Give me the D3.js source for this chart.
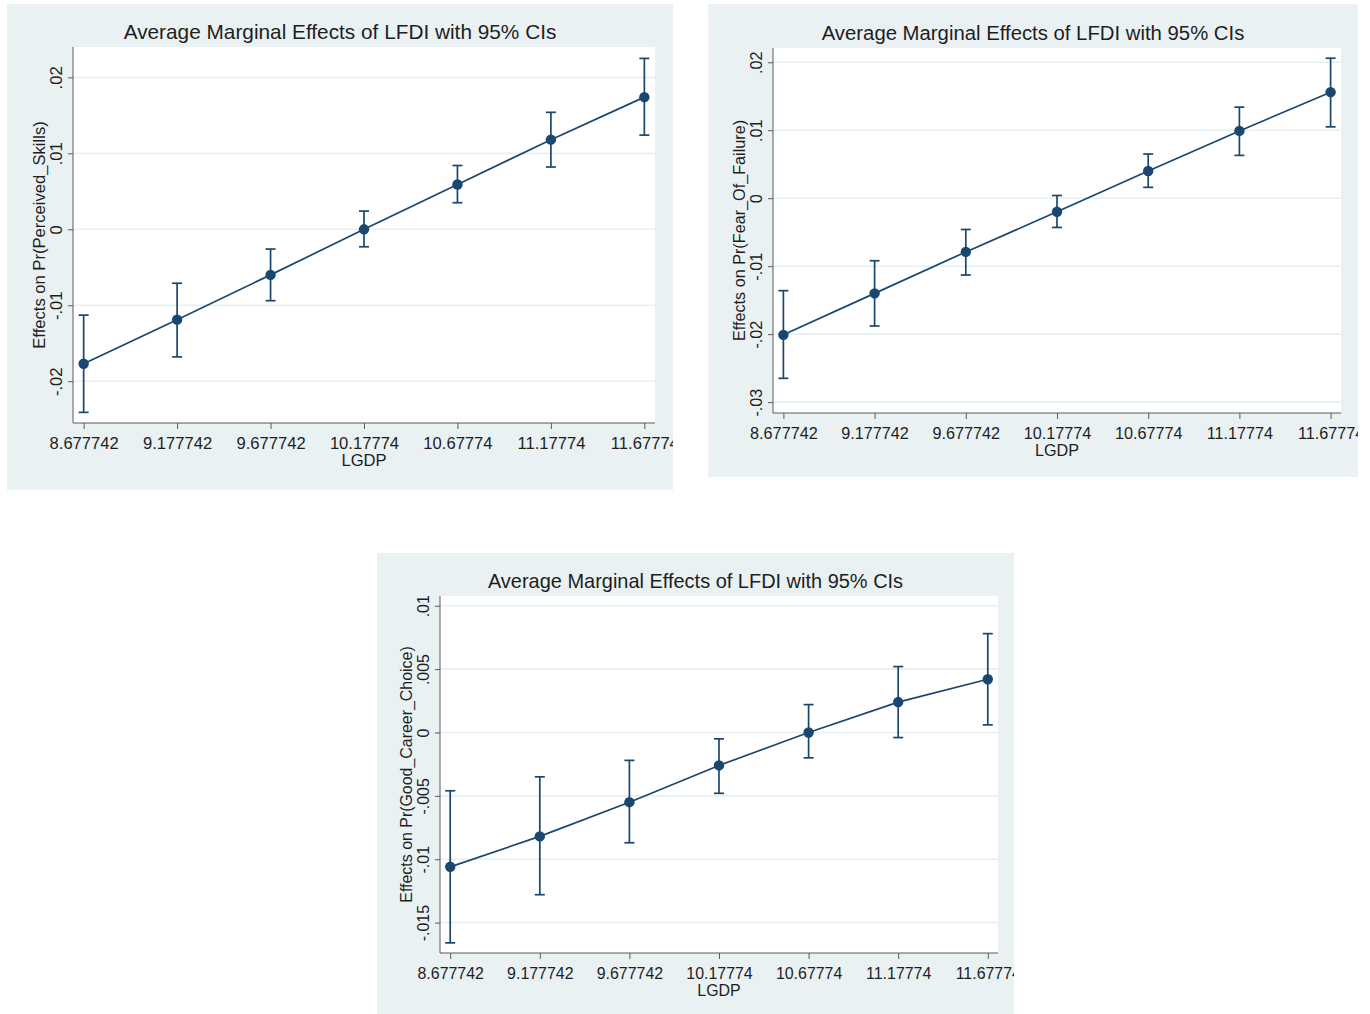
<!DOCTYPE html>
<html>
<head>
<meta charset="utf-8">
<script src="https://cdn.jsdelivr.net/npm/d3@7"></script>
<style>
  html, body { margin: 0; padding: 0; background: #ffffff; }
  svg { display: block; }
  text { font-family: "Liberation Sans", Arial, Helvetica, sans-serif; fill: #1e1e1e; }
</style>
</head>
<body>
<svg id="chart" width="1370" height="1014"></svg>
<script>
// ---------- data ----------
const lgdp = [8.677742, 9.177742, 9.677742, 10.17774, 10.67774, 11.17774, 11.67774];
const xTickLabels = ["8.677742", "9.177742", "9.677742", "10.17774", "10.67774", "11.17774", "11.67774"];
const chartTitle = "Average Marginal Effects of LFDI with 95% CIs";
const xAxisTitle = "LGDP";

// Panel 1: Perceived_Skills
const skillsMargin = [-0.0177, -0.0119, -0.0060, 0.0000, 0.0059, 0.0118, 0.0174];
const skillsLow    = [-0.0241, -0.0168, -0.0094, -0.0023, 0.0035, 0.0082, 0.0124];
const skillsHigh   = [-0.0113, -0.0071, -0.0026, 0.0024, 0.0084, 0.0154, 0.0225];
const skillsTicks  = [-0.02, -0.01, 0, 0.01, 0.02];
const skillsTickLabels = ["-.02", "-.01", "0", ".01", ".02"];

// Panel 2: Fear_Of_Failure
const fearMargin = [-0.0201, -0.0140, -0.0079, -0.0020, 0.0040, 0.0099, 0.0156];
const fearLow    = [-0.0265, -0.0188, -0.0113, -0.0043, 0.0016, 0.0063, 0.0105];
const fearHigh   = [-0.0136, -0.0092, -0.0046, 0.0004, 0.0065, 0.0134, 0.0206];
const fearTicks  = [-0.03, -0.02, -0.01, 0, 0.01, 0.02];
const fearTickLabels = ["-.03", "-.02", "-.01", "0", ".01", ".02"];

// Panel 3: Good_Career_Choice
const careerMargin = [-0.0106, -0.0082, -0.0055, -0.0026, 0.0000, 0.0024, 0.0042];
const careerLow    = [-0.0166, -0.0128, -0.0087, -0.0048, -0.0020, -0.0004, 0.0006];
const careerHigh   = [-0.0046, -0.0035, -0.0022, -0.0005, 0.0022, 0.0052, 0.0078];
const careerTicks  = [-0.015, -0.01, -0.005, 0, 0.005, 0.01];
const careerTickLabels = ["-.015", "-.01", "-.005", "0", ".005", ".01"];

// ---------- layout ----------
const panels = [
  { yTitle: "Effects on Pr(Perceived_Skills)", m: skillsMargin, lo: skillsLow, hi: skillsHigh,
    ticks: skillsTicks, tickLabels: skillsTickLabels, yDomain: [-0.0255, 0.0240], fs: 1.0,
    bg: { x: 7, y: 4, w: 666, h: 486 }, plot: { x: 73, y: 47, w: 582, h: 376 } },
  { yTitle: "Effects on Pr(Fear_Of_Failure)", m: fearMargin, lo: fearLow, hi: fearHigh,
    ticks: fearTicks, tickLabels: fearTickLabels, yDomain: [-0.0316, 0.0221], fs: 0.977,
    bg: { x: 708, y: 4, w: 650, h: 473 }, plot: { x: 773, y: 48, w: 568, h: 365 } },
  { yTitle: "Effects on Pr(Good_Career_Choice)", m: careerMargin, lo: careerLow, hi: careerHigh,
    ticks: careerTicks, tickLabels: careerTickLabels, yDomain: [-0.0174, 0.01077], fs: 0.96,
    bg: { x: 377, y: 553, w: 637, h: 461 }, plot: { x: 440, y: 596, w: 558, h: 357 } }
];

const navy = "#1a476f";
const bgColor = "#eaf1f3";
const gridColor = "#e6eff1";
const axisColor = "#5a5a5a";
const tickFont = 16.6;
const titleFont = 20.8;

const svg = d3.select("#chart");
const defs = svg.append("defs");

panels.forEach((p, i) => {
  const tf = (tickFont * p.fs) + "px";
  const hf = (titleFont * p.fs) + "px";
  const clipId = "clip" + i;
  defs.append("clipPath").attr("id", clipId)
    .append("rect").attr("x", p.bg.x).attr("y", p.bg.y).attr("width", p.bg.w).attr("height", p.bg.h);

  const root = svg.append("g").attr("clip-path", `url(#${clipId})`);
  root.append("rect").attr("x", p.bg.x).attr("y", p.bg.y)
    .attr("width", p.bg.w).attr("height", p.bg.h).attr("fill", bgColor);

  const g = root.append("g").attr("transform", `translate(${p.plot.x},${p.plot.y})`);
  const W = p.plot.w, H = p.plot.h;
  g.append("rect").attr("width", W).attr("height", H).attr("fill", "#ffffff");

  const pad = 0.057;
  const x = d3.scaleLinear().domain([lgdp[0] - pad, lgdp[lgdp.length - 1] + pad]).range([0, W]);
  const y = d3.scaleLinear().domain(p.yDomain).range([H, 0]);

  // gridlines
  g.append("g").selectAll("line").data(p.ticks).join("line")
    .attr("x1", 0).attr("x2", W)
    .attr("y1", d => y(d)).attr("y2", d => y(d))
    .attr("stroke", gridColor).attr("stroke-width", 1.6);

  // y axis
  const yAxis = d3.axisLeft(y).tickValues(p.ticks)
    .tickFormat((d, k) => p.tickLabels[k]).tickSizeInner(5).tickSizeOuter(0);
  const ya = g.append("g").call(yAxis);
  ya.select(".domain").attr("stroke", axisColor).attr("d", `M0,0V${H}`);
  ya.selectAll(".tick line").attr("stroke", axisColor);
  ya.selectAll(".tick text")
    .attr("x", null).attr("dy", null)
    .attr("transform", "translate(-11,0) rotate(-90)")
    .attr("text-anchor", "middle")
    .style("font-family", '"Liberation Sans", Arial, sans-serif')
    .style("font-size", tf).attr("fill", "#1e1e1e");

  // x axis
  const xAxis = d3.axisBottom(x).tickValues(lgdp)
    .tickFormat((d, k) => xTickLabels[k]).tickSizeInner(6).tickSizeOuter(0);
  const xa = g.append("g").attr("transform", `translate(0,${H})`).call(xAxis);
  xa.select(".domain").attr("stroke", axisColor).attr("d", `M0,0H${W}`);
  xa.selectAll(".tick line").attr("stroke", axisColor);
  xa.selectAll(".tick text")
    .attr("y", 26).attr("dy", null)
    .style("font-family", '"Liberation Sans", Arial, sans-serif')
    .style("font-size", tf).attr("fill", "#1e1e1e");

  // axis titles
  g.append("text").attr("x", W / 2).attr("y", H + 43)
    .attr("text-anchor", "middle").style("font-size", tf).text(xAxisTitle);
  g.append("text").attr("transform", `translate(-28,${H / 2}) rotate(-90)`)
    .attr("text-anchor", "middle").style("font-size", tf).text(p.yTitle);

  // chart title centred on panel
  root.append("text").attr("x", p.bg.x + p.bg.w / 2).attr("y", p.plot.y - 8)
    .attr("text-anchor", "middle").style("font-size", hf).text(chartTitle);

  // data
  const pts = lgdp.map((v, k) => ({ x: v, m: p.m[k], lo: p.lo[k], hi: p.hi[k] }));
  const cap = 5;
  const ci = g.append("g").attr("stroke", navy).attr("stroke-width", 1.7).attr("fill", "none");
  ci.selectAll("line.v").data(pts).join("line").attr("class", "v")
    .attr("x1", d => x(d.x)).attr("x2", d => x(d.x))
    .attr("y1", d => y(d.lo)).attr("y2", d => y(d.hi));
  ci.selectAll("line.t").data(pts).join("line").attr("class", "t")
    .attr("x1", d => x(d.x) - cap).attr("x2", d => x(d.x) + cap)
    .attr("y1", d => y(d.hi)).attr("y2", d => y(d.hi));
  ci.selectAll("line.b").data(pts).join("line").attr("class", "b")
    .attr("x1", d => x(d.x) - cap).attr("x2", d => x(d.x) + cap)
    .attr("y1", d => y(d.lo)).attr("y2", d => y(d.lo));

  const line = d3.line().x(d => x(d.x)).y(d => y(d.m));
  g.append("path").datum(pts).attr("d", line)
    .attr("fill", "none").attr("stroke", navy).attr("stroke-width", 1.7);

  g.append("g").selectAll("circle").data(pts).join("circle")
    .attr("cx", d => x(d.x)).attr("cy", d => y(d.m)).attr("r", 5.2).attr("fill", navy);
});
</script>
</body>
</html>
